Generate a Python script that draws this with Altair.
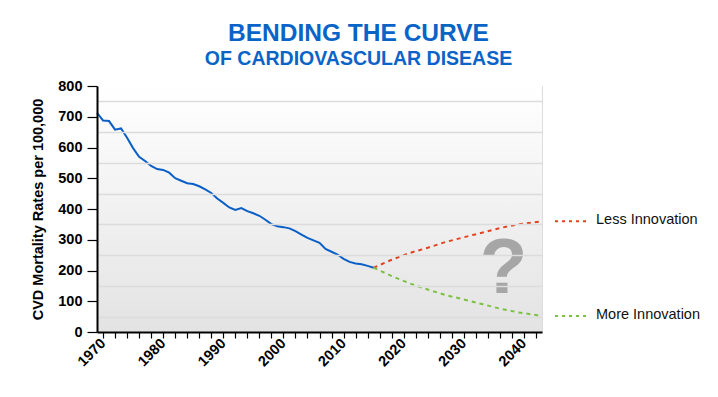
import altair as alt
import pandas as pd

# ---------------- data ----------------
hist_years = list(range(1969, 2016))
hist_values = [713, 688, 686, 658, 662, 632, 598, 570, 556, 540,
               530, 527, 518, 500, 492, 484, 481, 474, 464, 452,
               434, 420, 405, 397, 403, 393, 386, 378, 365, 351,
               344, 341, 337, 328, 317, 306, 298, 290, 270, 261,
               252, 238, 228, 223, 220, 215, 209]

proj_years = [2015, 2018, 2021, 2024, 2027, 2030, 2033, 2036, 2039, 2043]
less_values = [209, 235, 257, 274, 293, 308, 323, 338, 350, 360]
more_values = [209, 182, 158, 138, 120, 106, 91, 76, 64, 52]

series_names = ["Less Innovation", "More Innovation"]
series_colors = ["#e2431e", "#7cc043"]

x_domain = [1969, 2043]
y_domain = [0, 800]
x_tick_values = list(range(1970, 2043, 2))
y_tick_values = list(range(0, 801, 50))

question_pos = {"year": [2036.6], "value": [126], "label": ["?"]}

# ---------------- tables ----------------
hist = pd.DataFrame({"year": hist_years, "value": hist_values})
proj = pd.DataFrame({
    "year": proj_years * 2,
    "value": less_values + more_values,
    "series": [series_names[0]] * len(proj_years) + [series_names[1]] * len(proj_years),
})
last = proj[proj["year"] == proj_years[-1]]
bg = pd.DataFrame({"x0": [x_domain[0]], "x1": [x_domain[1]],
                   "y0": [y_domain[0]], "y1": [y_domain[1]]})
qm = pd.DataFrame(question_pos)

W, H = 445, 246
FONT = "Liberation Sans"

x_scale = alt.Scale(domain=x_domain, nice=False, zero=False)
y_scale = alt.Scale(domain=y_domain, nice=False)

x_axis = alt.Axis(
    title=None, values=x_tick_values, grid=False,
    labelExpr="datum.value % 10 == 0 ? datum.value : ''",
    labelAngle=-45, labelAlign="right", labelBaseline="middle",
    labelFont=FONT, labelFontSize=14.5, labelFontWeight="bold", labelColor="#000",
    labelPadding=3, labelFlush=False, labelOverlap=False,
    tickSize=6, tickColor="#000", tickWidth=1.2,
    domainColor="#000", domainWidth=2, zindex=1,
)
y_axis = alt.Axis(
    title="CVD Mortality Rates per 100,000", values=y_tick_values,
    labelExpr="datum.value % 100 == 0 ? datum.value : ''",
    labelFont=FONT, labelFontSize=14.5, labelFontWeight="bold", labelColor="#000",
    labelPadding=5, labelOverlap=False, labelFlush=False,
    tickSize=10, tickColor="#000", tickWidth=1.2,
    tickOpacity=alt.condition("datum.value % 100 == 0", alt.value(1), alt.value(0)),
    grid=True, gridColor="#dcdcdc", gridWidth=1.5,
    gridOpacity=alt.condition("datum.value % 100 == 50", alt.value(1), alt.value(0)),
    domainColor="#000", domainWidth=2, zindex=1,
    titleFont=FONT, titleFontSize=14.5, titleFontWeight="bold", titleColor="#000",
    titlePadding=12,
)


def X(field):
    return alt.X(f"{field}:Q", scale=x_scale, axis=x_axis)


def Y(field):
    return alt.Y(f"{field}:Q", scale=y_scale, axis=y_axis)


gradient = {
    "gradient": "linear", "x1": 0, "y1": 0, "x2": 0, "y2": 1,
    "stops": [{"offset": 0, "color": "#ffffff"}, {"offset": 1, "color": "#e3e3e3"}],
}

background = alt.Chart(bg).mark_rect(fill=gradient, strokeOpacity=0).encode(
    x=X("x0"), x2="x1:Q", y=Y("y0"), y2="y1:Q"
)

hist_line = alt.Chart(hist).mark_line(color="#0a5fc7", strokeWidth=2).encode(
    x=X("year"), y=Y("value")
)

color_scale = alt.Scale(domain=series_names, range=series_colors)

proj_lines = alt.Chart(proj).mark_line(strokeWidth=2, strokeDash=[4, 4]).encode(
    x=X("year"), y=Y("value"),
    color=alt.Color("series:N", scale=color_scale, legend=None),
)

question = alt.Chart(qm).mark_text(
    font=FONT, fontSize=78, fontWeight="bold", color="#a6a6a6",
    baseline="alphabetic", align="center"
).encode(x=X("year"), y=Y("value"), text="label:N")

legend_rules = alt.Chart(last).mark_rule(strokeWidth=2, strokeDash=[3, 4]).encode(
    x=alt.value(W + 13), x2=alt.value(W + 48), y=Y("value"),
    color=alt.Color("series:N", scale=color_scale, legend=None),
)

legend_text = alt.Chart(last).mark_text(
    font=FONT, fontSize=14.5, color="#111", align="left", baseline="middle", dy=-1
).encode(x=alt.value(W + 54), y=Y("value"), text="series:N")

chart = alt.layer(
    background, hist_line, proj_lines, question, legend_rules, legend_text
).properties(
    width=W, height=H,
    title=alt.TitleParams(
        text="BENDING THE CURVE", subtitle="OF CARDIOVASCULAR DISEASE",
        font=FONT, fontSize=24.5, fontWeight="bold", color="#0a64c8",
        subtitleFont=FONT, subtitleFontSize=19.5, subtitleFontWeight="bold",
        subtitleColor="#0a64c8", subtitlePadding=3,
        anchor="middle", frame="group", dx=39, dy=3, offset=12,
    ),
    autosize=alt.AutoSizeParams(type="none"),
    padding={"left": 89, "top": 78, "right": 168, "bottom": 57},
).configure_view(stroke=None).configure(background="white")

chart.save("out.html", embed_options={"renderer": "svg", "actions": False})
